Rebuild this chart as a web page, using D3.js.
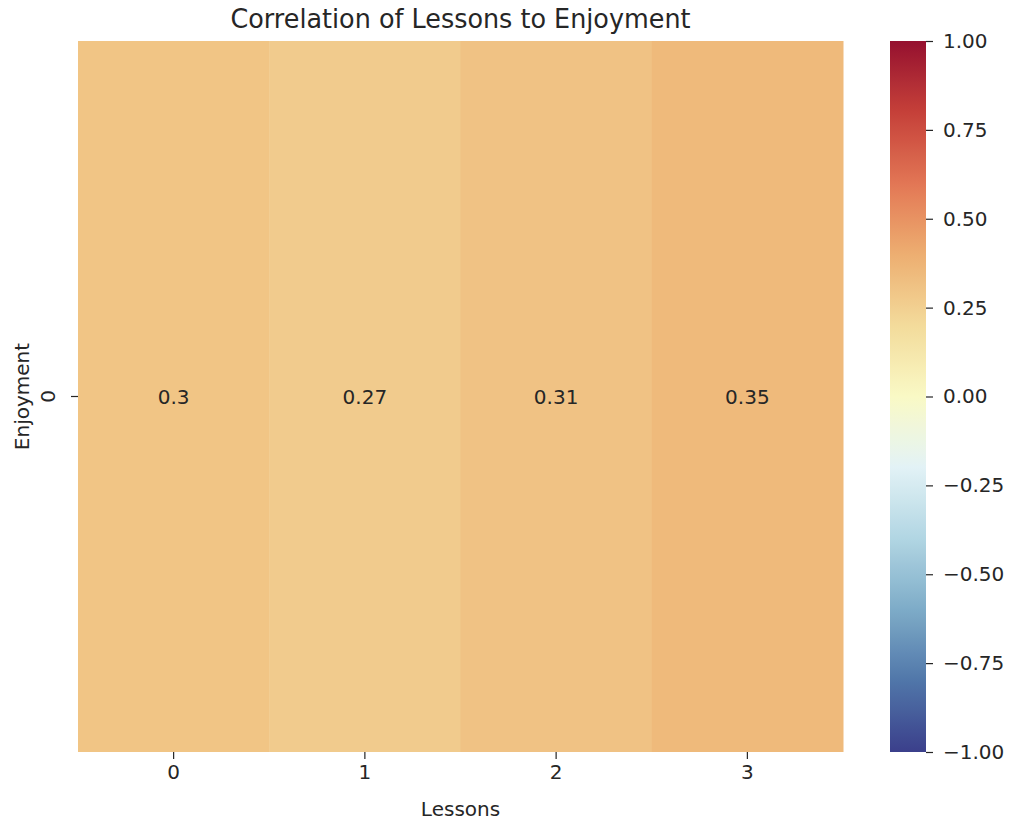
<!DOCTYPE html>
<html>
<head>
<meta charset="utf-8">
<script src="https://cdn.jsdelivr.net/npm/d3@7"></script>
<style>
  body { margin: 0; background: #fff; }
  svg text { font-family: "DejaVu Sans", sans-serif; fill: #262626; }
</style>
</head>
<body>
<svg id="chart" width="1014" height="820"></svg>
<script>
// Correlation of each lesson with enjoyment (one row heatmap)
const lessons = ["0", "1", "2", "3"];
const rows = ["0"];
const correlations = [0.3, 0.27, 0.31, 0.35];
const colorbarTicks = [1.0, 0.75, 0.5, 0.25, 0.0, -0.25, -0.5, -0.75, -1.0];
const titleText = "Correlation of Lessons to Enjoyment";
const xLabel = "Lessons";
const yLabel = "Enjoyment";

// RdYlBu reversed, linear segments between the brewer stops, slightly muted
const rdylbu = ["#a50026","#d73027","#f46d43","#fdae61","#fee090","#ffffbf",
                "#e0f3f8","#abd9e9","#74add1","#4575b4","#313695"].reverse();
const baseColor = d3.scaleLinear()
  .domain(d3.range(rdylbu.length).map(i => -1 + 2 * i / (rdylbu.length - 1)))
  .range(rdylbu)
  .interpolate(d3.interpolateRgb);
const color = v => {
  const c = d3.hsl(baseColor(v));
  c.s *= 0.8;
  return c.formatHex();
};

const svg = d3.select("#chart");
const plot = { left: 78, right: 843, top: 41, bottom: 752 };
const fs = "20px";

const x = d3.scaleBand().domain(lessons).range([plot.left, plot.right]);
const y = d3.scaleBand().domain(rows).range([plot.top, plot.bottom]);

const cells = lessons.map((l, i) => ({ lesson: l, row: rows[0], value: correlations[i] }));

svg.append("g").selectAll("rect").data(cells).join("rect")
  .attr("x", d => x(d.lesson))
  .attr("y", d => y(d.row))
  .attr("width", x.bandwidth() + 0.5)
  .attr("height", y.bandwidth())
  .attr("fill", d => color(d.value));

svg.append("g").selectAll("text").data(cells).join("text")
  .attr("x", d => x(d.lesson) + x.bandwidth() / 2)
  .attr("y", d => y(d.row) + y.bandwidth() / 2 + 7)
  .attr("text-anchor", "middle")
  .style("font-size", fs)
  .text(d => String(d.value));

// x axis
const xAxis = svg.append("g")
  .attr("transform", `translate(0,${plot.bottom})`)
  .call(d3.axisBottom(x).tickSize(7).tickPadding(6));
xAxis.select(".domain").remove();
xAxis.selectAll(".tick line").attr("stroke", "#262626").attr("stroke-width", 1.2);
xAxis.selectAll(".tick text").style("font-size", fs).attr("fill", "#262626");

// y axis with rotated tick label
const yAxis = svg.append("g")
  .attr("transform", `translate(${plot.left},0)`)
  .call(d3.axisLeft(y).tickSize(7).tickPadding(8));
yAxis.select(".domain").remove();
yAxis.selectAll(".tick line").attr("stroke", "#262626").attr("stroke-width", 1.2);
yAxis.selectAll(".tick text")
  .style("font-size", fs).attr("fill", "#262626")
  .attr("x", null).attr("dy", null)
  .attr("text-anchor", "middle")
  .attr("transform", "translate(-30,0) rotate(-90)")
  .attr("dominant-baseline", "central");

svg.append("text")
  .attr("x", (plot.left + plot.right) / 2)
  .attr("y", 816)
  .attr("text-anchor", "middle")
  .style("font-size", fs)
  .text(xLabel);

svg.append("text")
  .attr("transform", `translate(29,${(plot.top + plot.bottom) / 2}) rotate(-90)`)
  .attr("text-anchor", "middle")
  .style("font-size", fs)
  .text(yLabel);

svg.append("text")
  .attr("x", (plot.left + plot.right) / 2)
  .attr("y", 28)
  .attr("text-anchor", "middle")
  .attr("textLength", 460)
  .attr("lengthAdjust", "spacingAndGlyphs")
  .style("font-size", "26px")
  .text(titleText);

// colorbar
const cb = { left: 890, width: 36, top: 41, bottom: 752 };
const cbScale = d3.scaleLinear().domain([-1, 1]).range([cb.bottom, cb.top]);
const defs = svg.append("defs");
const grad = defs.append("linearGradient")
  .attr("id", "cbgrad").attr("x1", 0).attr("y1", 1).attr("x2", 0).attr("y2", 0);
grad.selectAll("stop").data(d3.range(0, 1.0001, 0.02)).join("stop")
  .attr("offset", t => t)
  .attr("stop-color", t => color(-1 + 2 * t));
svg.append("rect")
  .attr("x", cb.left).attr("y", cb.top)
  .attr("width", cb.width).attr("height", cb.bottom - cb.top)
  .attr("fill", "url(#cbgrad)");

const cbAxis = svg.append("g")
  .attr("transform", `translate(${cb.left + cb.width},0)`)
  .call(d3.axisRight(cbScale).tickValues(colorbarTicks).tickSize(7).tickPadding(10)
    .tickFormat(v => d3.format(".2f")(v).replace("-", "\u2212")));
cbAxis.select(".domain").remove();
cbAxis.selectAll(".tick line").attr("stroke", "#262626").attr("stroke-width", 1.2);
cbAxis.selectAll(".tick text").style("font-size", fs).attr("fill", "#262626");
</script>
</body>
</html>
